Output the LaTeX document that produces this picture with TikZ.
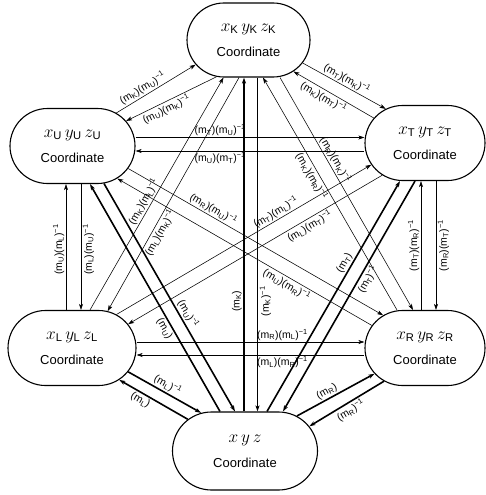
\documentclass[tikz,border=0pt]{standalone}
\usepackage{fontspec}
\setmainfont{Liberation Sans}
\usetikzlibrary{shapes.misc,arrows.meta}
\newcommand\mm[1]{(m\textsubscript{#1})}
\newcommand\inv{\textsuperscript{−1}}
\newcommand\mline[1]{{\fontsize{16}{16}\selectfont$x_{\mathrm{#1}}\,y_{\mathrm{#1}}\,z_{\mathrm{#1}}$}}
\begin{document}
\begin{tikzpicture}[x=1pt,y=-1pt,
  coord/.style={rounded rectangle, draw, line width=1.1pt, minimum height=75pt, inner sep=0pt, align=center, font=\fontsize{13}{25}\selectfont},
  >={Stealth[length=6pt,width=4pt,inset=1.5pt]},
  thinln/.style={line width=0.55pt},
  boldln/.style={line width=1.6pt},
  lab/.style={font=\fontsize{10.5}{12}\selectfont, inner sep=1.5pt, sloped},
]
\useasboundingbox (0,0) rectangle (486,495);
% nodes
\node[coord, minimum width=123pt, minimum height=74pt] (K) at (248.5,40) {\mline{K}\\Coordinate};
\node[coord, minimum width=125pt] (U) at (72.5,146) {\mline{U}\\Coordinate};
\node[coord, minimum width=120pt] (T) at (425,143) {\mline{T}\\Coordinate};
\node[coord, minimum width=128pt] (L) at (72,348) {\mline{L}\\Coordinate};
\node[coord, minimum width=120pt] (R) at (425,348) {\mline{R}\\Coordinate};
\node[coord, minimum width=145pt, minimum height=78pt] (O) at (245,451) {{\fontsize{16}{16}\selectfont$x\,y\,z$}\\Coordinate};
% K-U
\draw[thinln,->] (U.37.4) -- node[lab,above,pos=0.38]{\mm{K}\mm{U}\inv} (K.205.9);
\draw[thinln,<-] (U.25.2) -- node[lab,below,pos=0.41]{\mm{U}\mm{K}\inv} (K.229.6);
% K-T
\draw[thinln,->] (K.-23.1) -- node[lab,above,pos=0.49]{\mm{T}\mm{K}\inv} (T.139.8);
\draw[thinln,<-] (K.-35.7) -- node[lab,below,pos=0.42]{\mm{K}\mm{T}\inv} (T.154.7);
% U-T
\draw[thinln,->] ([yshift=8.5pt]U.east) -- node[lab,above,pos=0.37]{\mm{T}\mm{U}\inv} ([yshift=5.5pt]T.west);
\draw[thinln,<-] ([yshift=-5pt]U.east) -- node[lab,below,pos=0.37]{\mm{U}\mm{T}\inv} ([yshift=-8pt]T.west);
% U-L
\draw[thinln,->] ([xshift=-6pt]L.north) -- node[lab,above,pos=0.48]{\mm{U}\mm{L}\inv} ([xshift=-6.5pt]U.south);
\draw[thinln,<-] ([xshift=9pt]L.north) -- node[lab,below,pos=0.48]{\mm{L}\mm{U}\inv} ([xshift=8.5pt]U.south);
% T-R
\draw[thinln,->] ([xshift=-4pt]R.north) -- node[lab,above,pos=0.5]{\mm{T}\mm{R}\inv} ([xshift=-4pt]T.south);
\draw[thinln,<-] ([xshift=11pt]R.north) -- node[lab,below,pos=0.5]{\mm{R}\mm{T}\inv} ([xshift=11pt]T.south);
% L-R
\draw[thinln,->] ([yshift=6pt]L.east) -- node[lab,above,pos=0.64]{\mm{R}\mm{L}\inv} ([yshift=6pt]R.west);
\draw[thinln,<-] ([yshift=-7pt]L.east) -- node[lab,below,pos=0.64]{\mm{L}\mm{R}\inv} ([yshift=-7pt]R.west);
% K-L
\draw[thinln,->] ([xshift=18pt]L.north) -- node[lab,above,pos=0.45]{\mm{K}\mm{L}\inv} ([xshift=-25pt]K.south);
\draw[thinln,<-] (L.46.2) -- node[lab,below,pos=0.35]{\mm{L}\mm{K}\inv} ([xshift=-9.5pt]K.south);
% K-R
\draw[thinln,<-] ([xshift=14.5pt]K.south) -- node[lab,below,pos=0.41]{\mm{K}\mm{R}\inv} ([xshift=-28pt]R.north);
\draw[thinln,->] ([xshift=31.5pt]K.south) -- node[lab,above,pos=0.37]{\mm{R}\mm{K}\inv} ([xshift=-12pt]R.north);
% U-R
\draw[thinln,->] (U.-22.8) -- node[lab,above,pos=0.32]{\mm{R}\mm{U}\inv} (R.142.9);
\draw[thinln,<-] (U.-36.8) -- node[lab,below,pos=0.68]{\mm{U}\mm{R}\inv} (R.157.4);
% T-L
\draw[thinln,->] (L.37) -- node[lab,above,pos=0.64]{\mm{T}\mm{L}\inv} (T.202.9);
\draw[thinln,<-] (L.23.2) -- node[lab,below,pos=0.70]{\mm{L}\mm{T}\inv} (T.217.4);
% K-O
\draw[boldln,->] ([xshift=-1pt]O.north) -- node[lab,above,pos=0.33]{\mm{K}} ([xshift=-4.5pt]K.south);
\draw[boldln,<-] ([xshift=12.5pt]O.north) -- node[lab,below,pos=0.33]{\mm{K}\inv} ([xshift=9pt]K.south);
% U-O
\draw[boldln,<-] ([xshift=17.5pt]U.south) -- node[lab,below,pos=0.62]{\mm{U}} ([xshift=-25pt]O.north);
\draw[boldln,->] (U.-50.5) -- node[lab,above,pos=0.59]{\mm{U}\inv} ([xshift=-10pt]O.north);
% T-O
\draw[boldln,->] ([xshift=22pt]O.north) -- node[lab,above,pos=0.63]{\mm{T}} ([xshift=-25pt]T.south);
\draw[boldln,<-] ([xshift=38pt]O.north) -- node[lab,below,pos=0.59]{\mm{T}\inv} ([xshift=-10pt]T.south);
% L-O
\draw[boldln,->] (L.-23.3) -- node[lab,above,pos=0.49]{\mm{L}\inv} (O.139.8);
\draw[boldln,<-] (L.-34.8) -- node[lab,below,pos=0.36]{\mm{L}} (O.151.9);
% R-O
\draw[boldln,->] (O.34.7) -- node[lab,above,pos=0.43]{\mm{R}} (R.207.4);
\draw[boldln,<-] (O.21.8) -- node[lab,below,pos=0.5]{\mm{R}\inv} (R.219.8);
\end{tikzpicture}
\end{document}
